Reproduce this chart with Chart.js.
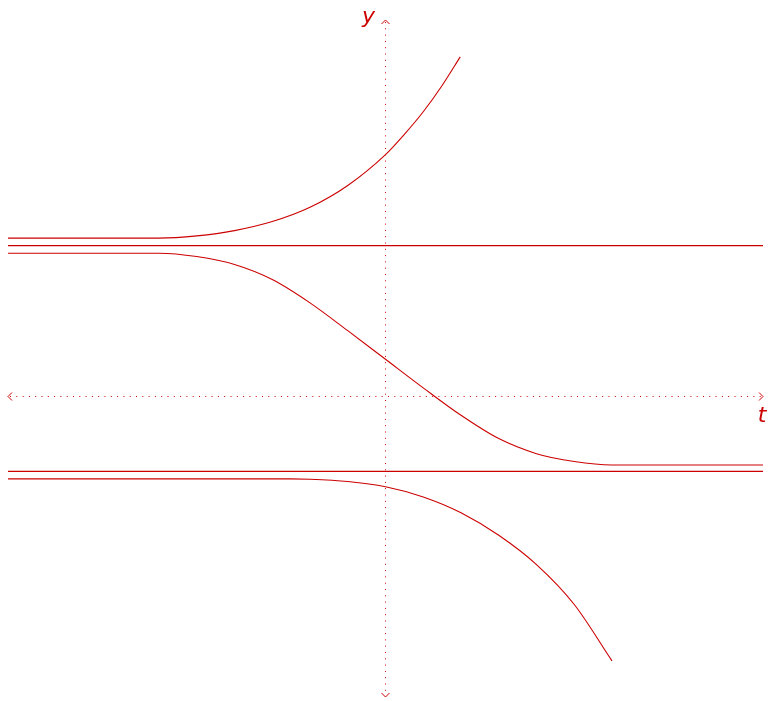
<!DOCTYPE html>
<html>
<head>
<meta charset="utf-8">
<script src="https://cdn.jsdelivr.net/npm/chart.js@4/dist/chart.umd.min.js"></script>
<style>
  html, body { margin: 0; padding: 0; background: #fff; }
  #wrap { width: 769px; height: 701px; }
</style>
</head>
<body>
<div id="wrap"><canvas id="myChart"></canvas></div>
<script>
// Axis ranges
const T_MIN = -5;
const T_MAX = 5;
const Y_MIN = -4;
const Y_MAX = 5;

// Equilibrium solutions
const upperEquilibrium = 2;
const lowerEquilibrium = -1;

// Solution curve starting just above y = 2
const curve1T = [-5, -3, -2.5, -2, -1.5, -1, -0.5, 0, 0.25, 0.5, 0.75, 0.99];
const curve1Y = [2.1, 2.1, 2.13, 2.2, 2.32, 2.51, 2.8, 3.21, 3.48, 3.78, 4.13, 4.51];

// Solution curve between the equilibria
const curve2T = [-5, -3, -2.5, -2, -1.5, -1, -0.5, 0, 0.5, 1, 1.5, 2, 2.5, 3, 5];
const curve2Y = [1.9, 1.9, 1.855, 1.75, 1.55, 1.24, 0.87, 0.49, 0.11, -0.255, -0.565, -0.765, -0.87, -0.915, -0.915];

// Solution curve starting just below y = -1
const curve3T = [-5, -1.25, -1, -0.5, 0, 0.5, 1, 1.5, 2, 2.5, 3];
const curve3Y = [-1.1, -1.1, -1.105, -1.135, -1.205, -1.34, -1.55, -1.85, -2.24, -2.77, -3.52];

const RED = "#cc0000";

const toPoints = (ts, ys) => ts.map((t, i) => ({ x: t, y: ys[i] }));

const curveStyle = {
  borderColor: RED,
  borderWidth: 1.1,
  pointRadius: 0,
  fill: false,
  showLine: true,
  cubicInterpolationMode: "monotone",
};

/**
 * Draws the dotted t and y axes with chevron arrowheads and italic labels
 */
const axesPlugin = {
  id: "axesPlugin",
  beforeDatasetsDraw(chart) {
    const { ctx, scales } = chart;
    const xs = scales.x;
    const ys = scales.y;
    const x0 = Math.floor(xs.getPixelForValue(0)) + 0.5;
    const y0 = Math.floor(ys.getPixelForValue(0)) + 0.5;
    const left = xs.getPixelForValue(T_MIN);
    const right = xs.getPixelForValue(T_MAX);
    const top = ys.getPixelForValue(Y_MAX);
    const bottom = ys.getPixelForValue(Y_MIN);
    const a = 4;

    ctx.save();
    ctx.strokeStyle = RED;
    ctx.lineWidth = 1;

    // dotted axis lines
    ctx.setLineDash([1, 5.3]);
    ctx.beginPath();
    ctx.moveTo(left + 2, y0);
    ctx.lineTo(right - 2, y0);
    ctx.moveTo(x0, top + 2);
    ctx.lineTo(x0, bottom - 2);
    ctx.stroke();

    // arrowheads
    ctx.setLineDash([]);
    ctx.beginPath();
    ctx.moveTo(left + a, y0 - a);
    ctx.lineTo(left, y0);
    ctx.lineTo(left + a, y0 + a);
    ctx.moveTo(right - a, y0 - a);
    ctx.lineTo(right, y0);
    ctx.lineTo(right - a, y0 + a);
    ctx.moveTo(x0 - a, top + a);
    ctx.lineTo(x0, top);
    ctx.lineTo(x0 + a, top + a);
    ctx.moveTo(x0 - a, bottom - a);
    ctx.lineTo(x0, bottom);
    ctx.lineTo(x0 + a, bottom - a);
    ctx.stroke();

    // axis labels
    ctx.fillStyle = RED;
    ctx.font = "italic 22px 'DejaVu Sans'";
    ctx.textAlign = "center";
    ctx.textBaseline = "alphabetic";
    ctx.fillText("y", x0 - 17, top + 3);
    ctx.fillText("t", right - 1, y0 + 25);
    ctx.restore();
  },
};

new Chart("myChart", {
  type: "scatter",
  data: {
    datasets: [
      { ...curveStyle, data: toPoints(curve1T, curve1Y) },
      { ...curveStyle, cubicInterpolationMode: "default", tension: 0, data: toPoints([T_MIN, T_MAX], [upperEquilibrium, upperEquilibrium]) },
      { ...curveStyle, data: toPoints(curve2T, curve2Y) },
      { ...curveStyle, cubicInterpolationMode: "default", tension: 0, data: toPoints([T_MIN, T_MAX], [lowerEquilibrium, lowerEquilibrium]) },
      { ...curveStyle, data: toPoints(curve3T, curve3Y) },
    ],
  },
  options: {
    responsive: true,
    maintainAspectRatio: false,
    animation: false,
    layout: { padding: { left: 8, right: 6, top: 20, bottom: 4 } },
    scales: {
      x: { type: "linear", min: T_MIN, max: T_MAX, display: false },
      y: { type: "linear", min: Y_MIN, max: Y_MAX, display: false },
    },
    plugins: {
      legend: { display: false },
      tooltip: { enabled: false },
    },
  },
  plugins: [axesPlugin],
});
</script>
</body>
</html>
